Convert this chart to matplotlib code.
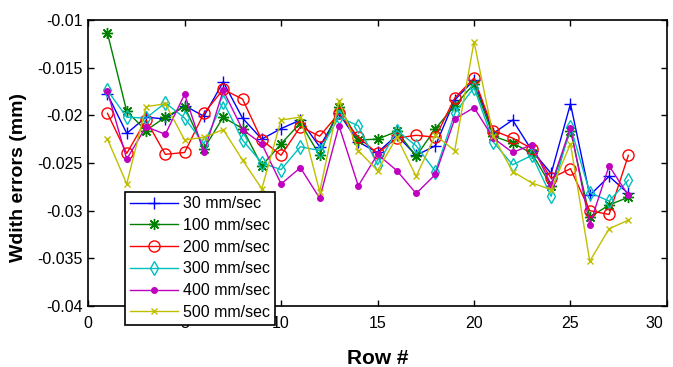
import matplotlib
matplotlib.use("Agg")
import matplotlib.pyplot as plt
from matplotlib.transforms import ScaledTranslation

plt.rcParams['font.family'] = ['Liberation Sans', 'DejaVu Sans']

rows = list(range(1, 29))
s30 = [-0.0178, -0.0219, -0.0202, -0.0204, -0.0190, -0.0201, -0.0165, -0.0203, -0.0225, -0.0214,
       -0.0205, -0.0233, -0.0198, -0.0228, -0.0239, -0.0221, -0.0242, -0.0232, -0.0184, -0.0163,
       -0.0219, -0.0205, -0.0237, -0.0261, -0.0188, -0.0284, -0.0264, -0.0282]
s100 = [-0.0114, -0.0196, -0.0216, -0.0202, -0.0191, -0.0235, -0.0202, -0.0214, -0.0253, -0.0230,
        -0.0208, -0.0242, -0.0191, -0.0226, -0.0225, -0.0217, -0.0243, -0.0214, -0.0190, -0.0167,
        -0.0222, -0.0229, -0.0240, -0.0274, -0.0216, -0.0307, -0.0294, -0.0286]
s200 = [-0.0198, -0.0240, -0.0205, -0.0241, -0.0239, -0.0198, -0.0173, -0.0183, -0.0226, -0.0242,
        -0.0212, -0.0222, -0.0198, -0.0223, -0.0240, -0.0224, -0.0221, -0.0223, -0.0182, -0.0161,
        -0.0216, -0.0224, -0.0235, -0.0266, -0.0256, -0.0300, -0.0304, -0.0242]
s300 = [-0.0174, -0.0202, -0.0203, -0.0187, -0.0203, -0.0230, -0.0186, -0.0226, -0.0250, -0.0257,
        -0.0233, -0.0237, -0.0202, -0.0211, -0.0252, -0.0216, -0.0232, -0.0259, -0.0198, -0.0171,
        -0.0228, -0.0252, -0.0242, -0.0285, -0.0212, -0.0281, -0.0290, -0.0268]
s400 = [-0.0175, -0.0246, -0.0212, -0.0220, -0.0178, -0.0239, -0.0174, -0.0215, -0.0230, -0.0272,
        -0.0255, -0.0287, -0.0211, -0.0274, -0.0241, -0.0258, -0.0282, -0.0262, -0.0204, -0.0192,
        -0.0224, -0.0239, -0.0231, -0.0273, -0.0213, -0.0315, -0.0253, -0.0284]
s500 = [-0.0225, -0.0272, -0.0191, -0.0188, -0.0226, -0.0223, -0.0215, -0.0247, -0.0277, -0.0205,
        -0.0202, -0.0280, -0.0185, -0.0237, -0.0258, -0.0223, -0.0264, -0.0221, -0.0237, -0.0123,
        -0.0222, -0.0259, -0.0271, -0.0278, -0.0230, -0.0353, -0.0319, -0.0310]

labels = ['30 mm/sec', '100 mm/sec', '200 mm/sec', '300 mm/sec', '400 mm/sec', '500 mm/sec']
series = [s30, s100, s200, s300, s400, s500]
xticks = [0, 5, 10, 15, 20, 25, 30]
yticks = [-0.04, -0.035, -0.03, -0.025, -0.02, -0.015, -0.01]
yticklabels = ['-0.04', '-0.035', '-0.03', '-0.025', '-0.02', '-0.015', '-0.01']

colors = ['#0000ff', '#008000', '#ff0000', '#00bfbf', '#bf00bf', '#bfbf00']
markers = ['+', (8, 2, 0), 'o', 'd', '.', 'x']
msizes = [9, 8, 8, 7, 8, 5]

fig = plt.figure(figsize=(6.73, 3.67), dpi=100)
ax = fig.add_axes([0.131, 0.166, 0.860, 0.780])

for y, lab, c, m, ms in zip(series, labels, colors, markers, msizes):
    ax.plot(rows, y, color=c, marker=m, markersize=ms, linewidth=1.0,
            markerfacecolor=('none' if m in ('o', 'd') else c), markeredgewidth=1.0,
            label=lab)

ax.set_xlim(0, 30)
ax.set_ylim(-0.04, -0.01)
ax.set_xticks(xticks)
ax.set_yticks(yticks)
ax.set_yticklabels(yticklabels)
ax.tick_params(direction='in', top=True, right=True, labelsize=11.5, length=4, width=1)
ax.tick_params(axis='x', pad=7)
ax.tick_params(axis='y', pad=4)
for sp in ax.spines.values():
    sp.set_linewidth(1.2)

# keep the last x tick label inside the figure (right-aligned near the axis edge)
last = ax.get_xticklabels()[-1]
last.set_horizontalalignment('right')
last.set_transform(last.get_transform() + ScaledTranslation(-3 / 72, 0, fig.dpi_scale_trans))

ax.set_xlabel('Row #', fontsize=15, fontweight='bold', labelpad=13)
ax.set_ylabel('Wdith errors (mm)', fontsize=14, fontweight='bold')
ax.yaxis.set_label_coords(-0.105, 0.45)

leg = ax.legend(loc='lower left', bbox_to_anchor=(0.064, -0.065),
                fontsize=11.5, frameon=True, fancybox=False, framealpha=1,
                borderpad=0.3, labelspacing=0.42, handlelength=3.0, handletextpad=0.3,
                borderaxespad=0)
leg.get_frame().set_edgecolor('black')
leg.get_frame().set_linewidth(1.2)
leg.set_zorder(10)

fig.savefig('out.png', dpi=100)
